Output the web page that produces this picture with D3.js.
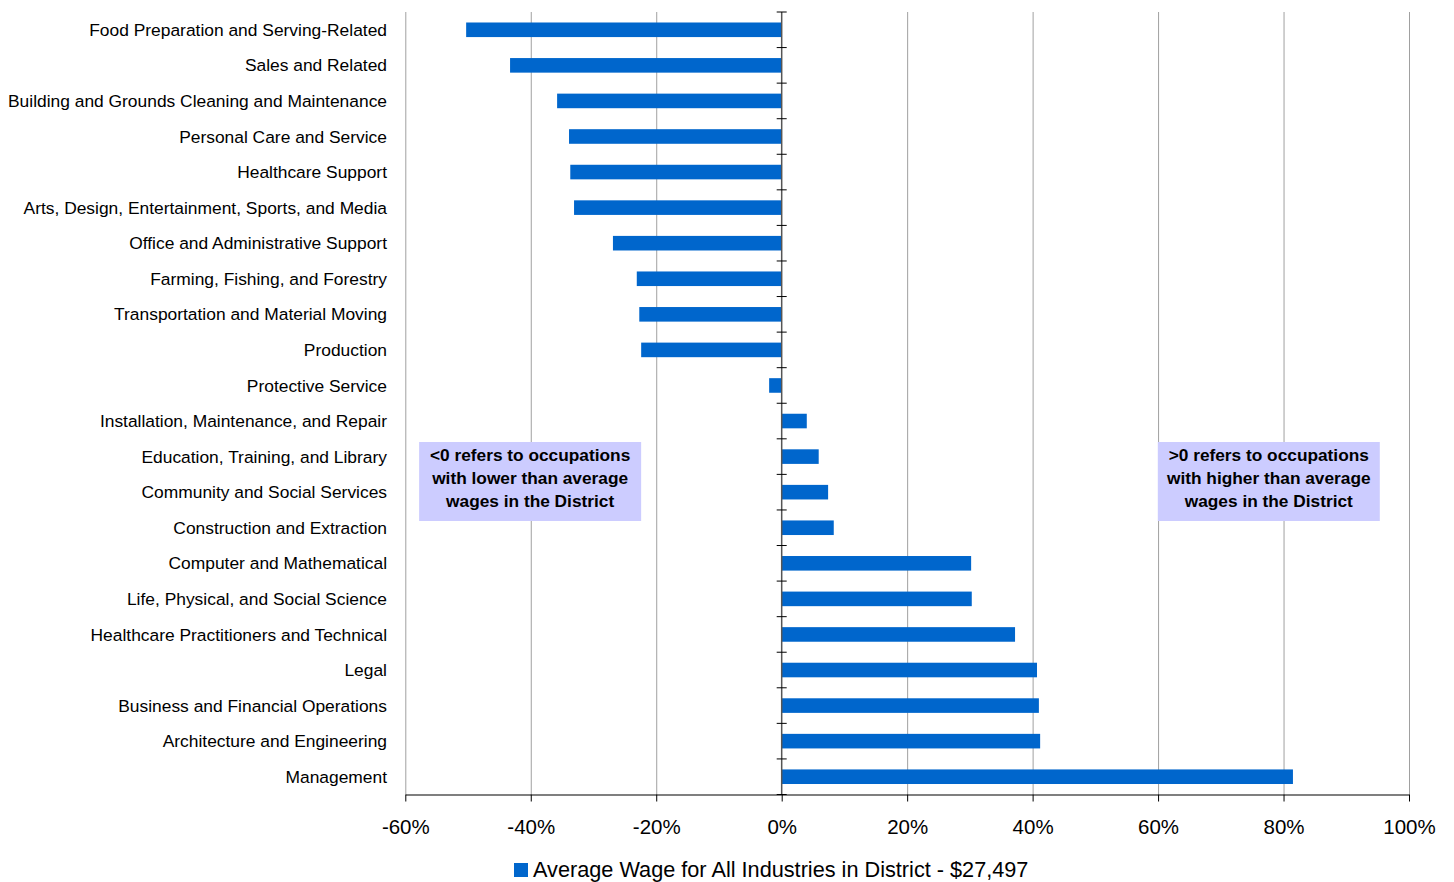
<!DOCTYPE html>
<html><head><meta charset="utf-8">
<script src="https://cdn.jsdelivr.net/npm/d3@7"></script>
<style>body{margin:0;background:#fff;font-family:"Liberation Sans",Arial,sans-serif;}</style>
</head><body>
<svg id="chart" width="1454" height="882"></svg>
<script>
const categories = ["Food Preparation and Serving-Related","Sales and Related","Building and Grounds Cleaning and Maintenance","Personal Care and Service","Healthcare Support","Arts, Design, Entertainment, Sports, and Media","Office and Administrative Support","Farming, Fishing, and Forestry","Transportation and Material Moving","Production","Protective Service","Installation, Maintenance, and Repair","Education, Training, and Library","Community and Social Services","Construction and Extraction","Computer and Mathematical","Life, Physical, and Social Science","Healthcare Practitioners and Technical","Legal","Business and Financial Operations","Architecture and Engineering","Management"];
const values = [-50.3,-43.3,-35.8,-33.9,-33.7,-33.1,-26.9,-23.1,-22.7,-22.4,-2.0,4.0,5.9,7.4,8.3,30.2,30.3,37.2,40.7,41.0,41.2,81.5];
const xTicks = [-60,-40,-20,0,20,40,60,80,100];
const seriesName = "Average Wage for All Industries in District - $27,497";
const notes = [
  {x:-40.1, lines:["<0 refers to occupations","with lower than average","wages in the District"]},
  {x:77.65, lines:[">0 refers to occupations","with higher than average","wages in the District"]}
];

const svg = d3.select("#chart");
const L=405.3, R=1409, T=12, B=794.5;
const x = d3.scaleLinear().domain([-60,100]).range([L,R]);
const y = d3.scaleBand().domain(categories).range([T,B]).paddingInner(0.59).paddingOuter(0.295);
const band = (B-T)/categories.length;

// gridlines
svg.append("g").selectAll("line").data(xTicks.filter(d=>d!==0)).join("line")
  .attr("x1",d=>x(d)+0.5).attr("x2",d=>x(d)+0.5).attr("y1",T).attr("y2",B)
  .attr("stroke","#a0a0a0").attr("stroke-width",1);

// annotation boxes
notes.forEach(n=>{
  const cx = x(n.x);
  const g = svg.append("g");
  g.append("rect").attr("x",cx-111).attr("y",442).attr("width",222).attr("height",79).attr("fill","#ccccff");
  n.lines.forEach((t,i)=>{
    g.append("text").attr("x",cx).attr("y",461+i*23).attr("text-anchor","middle")
      .attr("font-size","17.3px").attr("font-weight","bold").attr("fill","#000").text(t);
  });
});

// bars
svg.append("g").selectAll("rect").data(values).join("rect")
  .attr("x",d=>x(Math.min(0,d))).attr("width",d=>Math.abs(x(d)-x(0)))
  .attr("y",(d,i)=>y(categories[i])).attr("height",y.bandwidth())
  .attr("fill","#0066cc");

// bottom axis
const xa = svg.append("g").attr("transform",`translate(0,${B})`)
  .call(d3.axisBottom(x).tickValues(xTicks).tickFormat(d=>d+"%").tickSize(7).tickSizeOuter(0));
xa.select(".domain").attr("stroke","#555").attr("stroke-width",1.3);
xa.selectAll(".tick line").attr("stroke","#000");
xa.selectAll("text").attr("font-size","20.5px").attr("font-family","Liberation Sans, Arial, sans-serif").attr("fill","#000").attr("dy","0").attr("y",39);

// zero axis with ticks at category boundaries
const za = svg.append("g");
za.append("line").attr("x1",x(0)).attr("x2",x(0)).attr("y1",T).attr("y2",B).attr("stroke","#555").attr("stroke-width",1.5);
za.selectAll("line.t").data(d3.range(categories.length+1)).join("line").attr("class","t")
  .attr("x1",x(0)-5).attr("x2",x(0)+5).attr("y1",i=>T+i*band).attr("y2",i=>T+i*band)
  .attr("stroke","#000").attr("stroke-width",1);

// category labels
svg.append("g").selectAll("text").data(categories).join("text")
  .attr("x",387).attr("y",d=>y(d)+y.bandwidth()/2).attr("dy","0.35em")
  .attr("text-anchor","end").attr("font-size","17.4px").attr("fill","#000").text(d=>d);

// legend
const lg = svg.append("g");
lg.append("rect").attr("x",514).attr("y",863).attr("width",14).attr("height",14).attr("fill","#0066cc");
lg.append("text").attr("x",533).attr("y",877).attr("font-size","21.7px").attr("fill","#000").text(seriesName);
</script>
</body></html>
